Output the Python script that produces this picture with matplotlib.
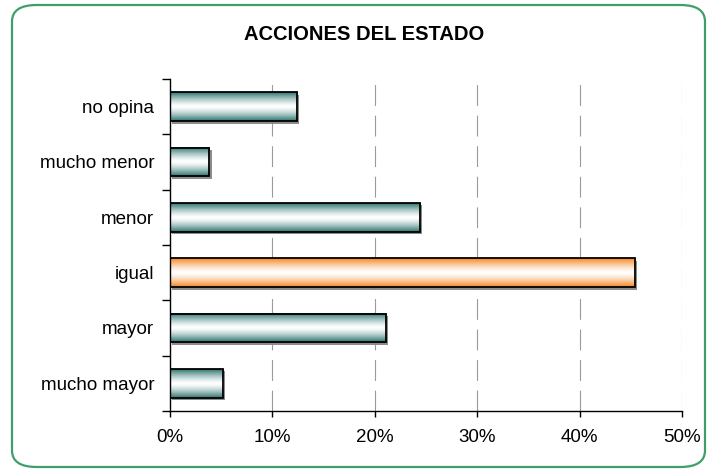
import numpy as np
import matplotlib
matplotlib.use("Agg")
import matplotlib.pyplot as plt
import matplotlib.patheffects as pe
from matplotlib.patches import FancyBboxPatch
from matplotlib.colors import LinearSegmentedColormap

plt.rcParams['font.family'] = ['Liberation Sans', 'DejaVu Sans']
plt.rcParams['lines.scale_dashes'] = False

# categories listed bottom to top
categories = ['mucho mayor', 'mayor', 'igual', 'menor', 'mucho menor', 'no opina']
values = [5.2, 21.1, 45.4, 24.4, 3.9, 12.4]
highlight = 'igual'
xticks = [0, 10, 20, 30, 40, 50]
xticklabels = ['0%', '10%', '20%', '30%', '40%', '50%']
title = 'ACCIONES DEL ESTADO'

teal = (0.17, 0.45, 0.43)
orange = (0.96, 0.52, 0.12)

fig = plt.figure(figsize=(7.09, 4.70), dpi=100)

# rounded green frame around the whole chart
frame = FancyBboxPatch((12 / 709, 3 / 470), 693 / 709, 462 / 470,
                       boxstyle="round,pad=0,rounding_size=0.035",
                       transform=fig.transFigure, facecolor='none',
                       edgecolor='#3f9f6a', lw=1.6, zorder=-1)
fig.patches.append(frame)

ax = fig.add_axes([169.5 / 709, 1 - 411 / 470, (682 - 169.5) / 709, (411 - 79) / 470])
ax.set_facecolor('none')

fig.text(364 / 709, 1 - 34 / 470, title, ha='center', va='center',
         fontsize=14.5, fontweight='bold')

y = np.arange(len(categories))
h = 0.52

# shadow layer underneath
ax.barh(y, values, height=h, color='white', zorder=2,
        path_effects=[pe.SimplePatchShadow(offset=(1.8, -1.8), shadow_rgbFace='#808080', alpha=0.9),
                      pe.Normal()])
bars = ax.barh(y, values, height=h, facecolor='none', edgecolor='black', lw=1.3, zorder=5)

# vertical gradient fill: dark at top/bottom edges, white in the middle
t = np.linspace(-1, 1, 200)
w = np.abs(t) ** 1.4
grad = w[:, None]
for cat, bar in zip(categories, bars):
    base = orange if cat == highlight else teal
    cmap = LinearSegmentedColormap.from_list('g', ['white', base])
    x0, y0 = bar.get_x(), bar.get_y()
    ax.imshow(grad, extent=[x0, x0 + bar.get_width(), y0, y0 + bar.get_height()],
              aspect='auto', cmap=cmap, vmin=0, vmax=1, zorder=4, interpolation='bilinear')

ax.set_xlim(0, 50)
ax.set_ylim(-0.5, len(categories) - 0.5)

# dashed vertical grid
for xv in xticks[1:]:
    ax.axvline(xv, color='#9a9a9a', lw=0.8, linestyle=(0, (15, 7)), zorder=1)

ax.set_xticks(xticks)
ax.set_xticklabels(xticklabels, fontsize=13.5)
ax.tick_params(axis='x', length=4, width=1, pad=9, color='black')

# y ticks at category boundaries, labels at centres
ax.set_yticks(np.arange(-0.5, len(categories), 1))
ax.set_yticklabels([])
ax.set_yticks(y, minor=True)
ax.set_yticklabels(categories, minor=True, fontsize=13.5)
ax.tick_params(axis='y', which='major', length=6, width=1)
ax.tick_params(axis='y', which='minor', length=0, pad=11)

for s in ['top', 'right']:
    ax.spines[s].set_visible(False)
for s in ['left', 'bottom']:
    ax.spines[s].set_linewidth(1)
    ax.spines[s].set_zorder(6)

fig.savefig('out.png', dpi=100)
